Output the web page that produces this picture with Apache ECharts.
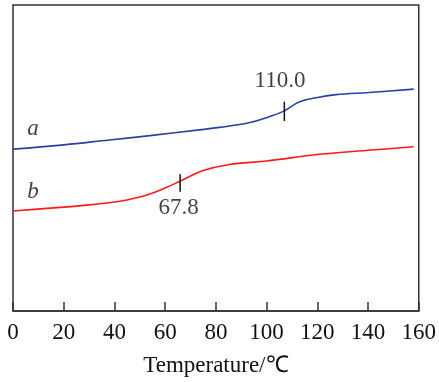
<!DOCTYPE html>
<html><head><meta charset="utf-8">
<script src="https://cdn.jsdelivr.net/npm/echarts@6/dist/echarts.min.js"></script>
<style>html,body{margin:0;padding:0;background:#fff}#c{width:439px;height:382px}</style>
</head><body><div id="c"></div>
<script>
// Curve a (blue) : [temperature, signal]
const curveA = [[0,52.9],[20,54.3],[38,55.9],[54,57.3],[73.5,59.2],[81.4,60.0],[93,61.5],[101,63.5],[107,65.4],[112.8,68.3],[119.5,69.7],[127.4,70.7],[140.3,71.4],[158,72.5]];
// Curve b (red)
const curveB = [[0,32.7],[29,34.6],[45,36.3],[54,38.2],[60,40.2],[65.6,42.3],[74.7,45.8],[85.3,47.9],[99.8,49.0],[120.7,51.2],[141.5,52.6],[158,53.7]];
const xTicks = [0,20,40,60,80,100,120,140,160];
const markerA = [[107,62.1],[107,68.4]];
const markerB = [[65.9,39.0],[65.9,44.7]];
const annotations = [[105.3,75.3,'110.0'],[65.3,33.7,'67.8']];
const curveLabels = [[7.9,59.5,'a'],[7.9,38.9,'b']];

const serif = '"Liberation Serif","Times New Roman",serif';
const chart = echarts.init(document.getElementById('c'), null, {renderer:'canvas'});
chart.setOption({
  animation:false,
  grid:{left:13,right:19,top:5,bottom:71,show:true,borderColor:'#333',borderWidth:1.5},
  xAxis:{type:'value',min:0,max:160,interval:20,
    axisLine:{lineStyle:{color:'#333',width:1.5}},
    axisTick:{inside:true,length:9,lineStyle:{color:'#333',width:1.5}},
    splitLine:{show:false},
    axisLabel:{margin:10,color:'#111',fontFamily:serif,fontSize:23,
      formatter:v=>xTicks.includes(v)?String(v):''},
    name:'Temperature/℃',nameLocation:'middle',nameGap:43,
    nameTextStyle:{color:'#111',fontFamily:serif,fontSize:23}},
  yAxis:{type:'value',min:0,max:100,show:false},
  series:[
    {type:'line',data:curveA,smooth:0.4,symbol:'none',lineStyle:{color:'#2a3fa8',width:1.6}},
    {type:'line',data:curveB,smooth:0.4,symbol:'none',lineStyle:{color:'#ff1a1a',width:1.6}},
    {type:'line',data:markerA,symbol:'none',lineStyle:{color:'#111',width:1.5}},
    {type:'line',data:markerB,symbol:'none',lineStyle:{color:'#111',width:1.5}},
    {type:'scatter',symbolSize:0,data:annotations.map(a=>({value:[a[0],a[1]],name:a[2]})),
      label:{show:true,position:'inside',formatter:p=>p.name,color:'#111',fontFamily:serif,fontSize:23}},
    {type:'scatter',symbolSize:0,data:curveLabels.map(a=>({value:[a[0],a[1]],name:a[2]})),
      label:{show:true,position:'inside',formatter:p=>p.name,color:'#111',fontFamily:serif,fontSize:23,fontStyle:'italic'}}
  ]
});
</script></body></html>
